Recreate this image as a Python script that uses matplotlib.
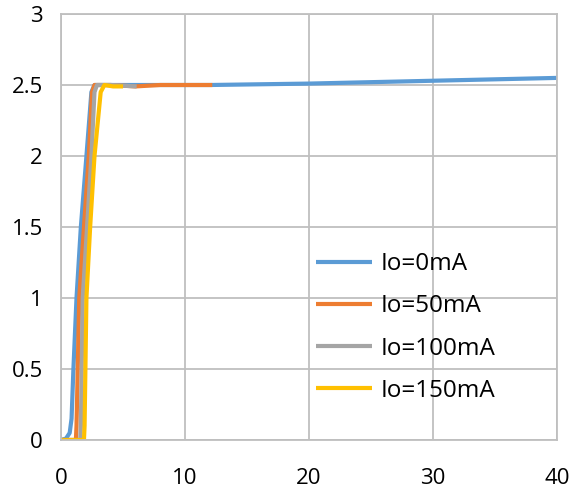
import matplotlib.pyplot as plt

# Io = 0mA
x0 = [0, 0.4, 0.7, 0.85, 1.0, 1.25, 1.6, 2.05, 2.45, 2.7, 3.5, 5, 8, 12, 16, 20, 25, 30, 35, 40]
y0 = [0, 0.01, 0.05, 0.15, 0.5, 1.0, 1.5, 2.0, 2.45, 2.5, 2.5, 2.5, 2.5, 2.5, 2.505, 2.51, 2.52, 2.53, 2.54, 2.55]
# Io = 50mA
x50 = [0, 1.2, 1.25, 1.47, 1.85, 2.24, 2.5, 2.7, 4, 6, 8, 10, 12.2]
y50 = [0, 0, 0.1, 1.0, 1.5, 2.0, 2.45, 2.5, 2.5, 2.49, 2.5, 2.5, 2.5]
# Io = 100mA
x100 = [0, 1.55, 1.6, 1.75, 2.1, 2.45, 2.7, 2.9, 4, 6.1]
y100 = [0, 0, 0.1, 1.0, 1.5, 2.0, 2.45, 2.5, 2.5, 2.49]
# Io = 150mA
x150 = [0, 1.85, 1.9, 2.05, 2.35, 2.7, 3.2, 3.5, 4.2, 5.0]
y150 = [0, 0, 0.1, 1.0, 1.5, 2.0, 2.45, 2.5, 2.49, 2.49]

labels = ['Io=0mA', 'Io=50mA', 'Io=100mA', 'Io=150mA']
colors = ['#5B9BD5', '#ED7D31', '#A5A5A5', '#FFC000']

plt.rcParams['font.family'] = ['Open Sans', 'DejaVu Sans']

fig = plt.figure(figsize=(5.74, 4.88), dpi=100)
ax = fig.add_axes([0.1063, 0.0984, 0.8641, 0.8729])

series = [(x0, y0), (x50, y50), (x100, y100), (x150, y150)]
for (xs, ys), lab, c in zip(series, labels, colors):
    ax.plot(xs, ys, color=c, linewidth=3, label=lab, solid_capstyle='butt')

ax.set_xlim(0, 40)
ax.set_ylim(0, 3)
ax.set_xticks([0, 10, 20, 30, 40])
ax.set_yticks([0, 0.5, 1, 1.5, 2, 2.5, 3])
ax.set_yticklabels(['0', '0.5', '1', '1.5', '2', '2.5', '3'])
ax.tick_params(length=0, labelsize=16)
ax.tick_params(axis='y', pad=13)
ax.tick_params(axis='x', pad=20)
ax.grid(True, color='#BFBFBF', linewidth=1.3)
ax.set_axisbelow(True)
for s in ax.spines.values():
    s.set_color('#BFBFBF')
    s.set_linewidth(1.3)

ax.legend(loc='upper left', bbox_to_anchor=(0.514, 0.441), frameon=False,
          fontsize=17.5, handlelength=2.3, labelspacing=0.75, handletextpad=0.37,
          borderpad=0, borderaxespad=0)

plt.savefig('out.png', dpi=100)
